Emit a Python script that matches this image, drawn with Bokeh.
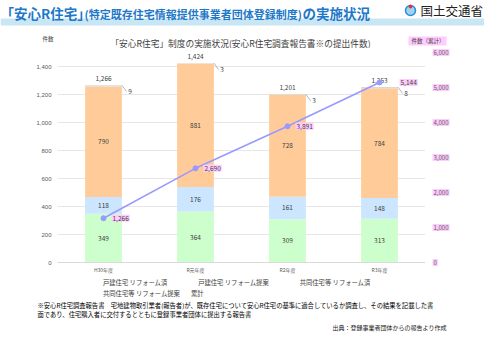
from bokeh.plotting import figure
from bokeh.layouts import column, row
from bokeh.models import (ColumnDataSource, Range1d, FactorRange,
                          Legend, LegendItem, FixedTicker, NumeralTickFormatter)
from bokeh.transform import dodge
from bokeh.core.properties import value
from bokeh.embed import file_html
from bokeh.resources import INLINE

# ---------------- data ----------------
years = ["H30年度", "R元年度", "R2年度", "R3年度"]
detached_done = [349, 364, 309, 313]
detached_prop = [118, 176, 161, 148]
condo_done = [790, 881, 728, 784]
condo_prop = [9, 3, 3, 8]
totals = [1266, 1424, 1201, 1253]
cumulative = [1266, 2690, 3891, 5144]
left_ticks = [0, 200, 400, 600, 800, 1000, 1200, 1400]
right_ticks = [0, 1000, 2000, 3000, 4000, 5000, 6000]
series_names = ["戸建住宅 リフォーム済", "戸建住宅 リフォーム提案",
                "共同住宅等 リフォーム済", "共同住宅等 リフォーム提案"]
line_name = "累計"
title_a = "「安心R住宅」"
title_b = "(特定既存住宅情報提供事業者団体登録制度)"
title_c = "の実施状況"
ministry = "国土交通省"
chart_title = "「安心R住宅」制度の実施状況(安心R住宅調査報告書※の提出件数)"
left_unit = "件数"
right_unit = "件数（累計）"
note1 = "※安心R住宅調査報告書　宅地建物取引業者(報告者)が、既存住宅について安心R住宅の基準に適合しているか調査し、その結果を記載した書"
note2 = "面であり、住宅購入者に交付するとともに登録事業者団体に提出する報告書"
source_note = "出典：登録事業者団体からの報告より作成"

JP = "Noto Sans CJK JP"
W = 484
colors = ["#ccffcc", "#cce6ff", "#ffcc99", "#d9d9d9"]
keys = ["dd", "dp", "cd", "cp"]
PINK = "#ffccff"
TXT = "#404040"


def no_align(f):
    try:
        f.frame_align = False
    except Exception:
        pass


def strip(w, h, yr=None):
    f = figure(width=w, height=h, x_range=Range1d(0, w),
               y_range=yr if yr is not None else Range1d(h, 0),
               output_backend="svg", toolbar_location=None, min_border=0,
               x_axis_location=None, y_axis_location=None, outline_line_color=None,
               background_fill_color="white", border_fill_color="white")
    f.xgrid.grid_line_color = None
    f.ygrid.grid_line_color = None
    no_align(f)
    return f


def txt(f, x, y, t, size, color=TXT, style="normal", align="left"):
    f.text(x=[x], y=[y], text=[t], text_font=value(JP), text_font_size=size,
           text_color=color, text_font_style=style, text_align=align,
           text_baseline="middle")


# ---------------- header ----------------
head = strip(W, 28)
head.quad(left=[0], right=[W], top=[18], bottom=[25], fill_color="#c9e6f5", line_color=None)
blue = "#1e78c8"
txt(head, 0, 12, title_a, "13.5px", blue, "bold")
txt(head, 84, 13, title_b, "11px", blue, "bold")
txt(head, 302, 12, title_c, "13.5px", blue, "bold")
head.scatter(x=[410], y=[10], size=10, fill_color="#9fd3f2", line_color="#2a8fd8", line_width=1.5)
head.scatter(x=[410], y=[6], size=3, color="#e0303a")
txt(head, 420, 10, ministry, "12.5px", "#222222")

# ---------------- sub header ----------------
sub = strip(W, 20)
txt(sub, 240, 14.5, chart_title, "8.7px", TXT, align="center")
txt(sub, 42, 10, left_unit, "5.5px", TXT)
sub.quad(left=[408], right=[446], top=[8], bottom=[17], fill_color=PINK, line_color=None)
txt(sub, 411, 12.5, right_unit, "5.5px", TXT)

# ---------------- chart ----------------
CH, T, B = 228, 4, 14
F = CH - T - B
RMAX = right_ticks[-1]

src = ColumnDataSource(dict(year=years, dd=detached_done, dp=detached_prop,
                            cd=condo_done, cp=condo_prop, total=totals,
                            cum=cumulative,
                            total_txt=[f"{v:,}" for v in totals],
                            cum_txt=[f"{v:,}" for v in cumulative],
                            cp_txt=[str(v) for v in condo_prop],
                            cp_y=[t - 45 for t in totals],
                            cum_xoff=[8, 8, 8, 20]))

p = figure(width=425, height=CH, x_range=FactorRange(*years, range_padding=0),
           y_range=Range1d(0, 1500), output_backend="svg", toolbar_location=None,
           min_border_left=57, min_border_right=0, min_border_top=T,
           min_border_bottom=B, outline_line_color=None,
           background_fill_color="white", border_fill_color="white")
p.extra_y_ranges = {"cum": Range1d(0, RMAX)}

bars = p.vbar_stack(keys, x="year", width=0.4, color=colors, line_color=None, source=src)

segs = [detached_done, detached_prop, condo_done]
mid_y, mid_t, mid_x = [], [], []
for i in range(len(years)):
    base = 0
    for s in segs:
        mid_x.append(years[i])
        mid_y.append(base + s[i] / 2)
        mid_t.append(str(s[i]))
        base += s[i]
seg_src = ColumnDataSource(dict(x=mid_x, y=mid_y, t=mid_t))
p.text(x="x", y="y", text="t", source=seg_src, text_align="center",
       text_baseline="middle", text_font_size="6.5px", text_color=TXT, text_font=value(JP))

p.text(x="year", y="total", text="total_txt", source=src, y_offset=-7,
       text_align="center", text_baseline="middle", text_font_size="6.5px",
       text_color=TXT, text_font=value(JP))

p.segment(x0=dodge("year", 0.2, range=p.x_range), y0="total",
          x1=dodge("year", 0.25, range=p.x_range), y1="cp_y",
          source=src, line_color="#a6a6a6", line_width=0.8)
p.text(x=dodge("year", 0.27, range=p.x_range), y="cp_y", text="cp_txt",
       source=src, text_baseline="middle", text_font_size="6.5px",
       text_color=TXT, text_font=value(JP))

ln = p.line(x="year", y="cum", y_range_name="cum", source=src,
            line_color="#9999ff", line_width=1.6)
sc = p.scatter(x="year", y="cum", y_range_name="cum", source=src, size=5,
               color="#9999ff")
p.text(x="year", y="cum", y_range_name="cum", text="cum_txt", source=src,
       x_offset="cum_xoff", text_baseline="middle", text_font_size="6.5px",
       text_color=TXT, text_font=value(JP), background_fill_color=PINK, padding=1)

p.yaxis.ticker = FixedTicker(ticks=left_ticks)
p.yaxis.formatter = NumeralTickFormatter(format="0,0")
p.yaxis.axis_line_color = None
p.yaxis.major_tick_line_color = None
p.yaxis.minor_tick_line_color = None
p.yaxis.major_tick_out = 0
p.yaxis.minor_tick_out = 0
p.yaxis.major_label_text_font_size = "6px"
p.yaxis.major_label_text_color = "#595959"
p.yaxis.major_label_standoff = 6
p.xaxis.axis_line_color = "#d9d9d9"
p.xaxis.major_tick_line_color = None
p.xaxis.minor_tick_line_color = None
p.xaxis.major_tick_out = 0
p.xaxis.minor_tick_out = 0
p.xaxis.major_label_text_font_size = "5px"
p.xaxis.major_label_text_color = "#595959"
p.xaxis.major_label_text_font = JP
p.xaxis.major_label_standoff = 3
p.xgrid.grid_line_color = None
p.ygrid.grid_line_color = "#e6e6e6"
p.ygrid.ticker = FixedTicker(ticks=left_ticks)
no_align(p)

# right-hand (cumulative) tick labels, same vertical scale as the chart frame
rstrip = strip(W - 425, CH, Range1d(-B * RMAX / F, RMAX + T * RMAX / F))
rstrip.text(x=[7] * len(right_ticks), y=right_ticks, text=[f"{v:,}" for v in right_ticks],
            text_font=value(JP), text_font_size="6px", text_color="#595959",
            text_baseline="middle", background_fill_color=PINK, padding=1)

# ---------------- legend strip ----------------
leg = strip(W, 24)
dummies = [leg.vbar(x=[], top=[], width=1, color=c, line_color=None) for c in colors]
dl = leg.line(x=[], y=[], line_color="#9999ff", line_width=1.6)
ds = leg.scatter(x=[], y=[], size=4, color="#9999ff")
common = dict(label_text_font_size="6.3px", label_text_font=JP, label_text_color=TXT,
              glyph_width=9, glyph_height=4, label_height=8, label_standoff=4,
              padding=0, margin=0, border_line_color=None, background_fill_alpha=0,
              orientation="horizontal")
leg1 = Legend(items=[LegendItem(label=series_names[i], renderers=[dummies[i]]) for i in range(3)],
              location=(90, 13), spacing=18, **common)
leg2 = Legend(items=[LegendItem(label=series_names[3], renderers=[dummies[3]])],
              location=(90, 2), **common)
leg3 = Legend(items=[LegendItem(label=line_name, renderers=[dl, ds])],
              location=(178, 2), **common)
leg.add_layout(leg1, "center")
leg.add_layout(leg2, "center")
leg.add_layout(leg3, "center")

# ---------------- footer ----------------
foot = strip(W, 40)
txt(foot, 37, 5, note1, "6.3px", "#000000")
txt(foot, 37, 14, note2, "6.3px", "#000000")
txt(foot, 446, 27, source_note, "6px", "#222222", align="right")

layout = column(head, sub, row(p, rstrip, spacing=0), leg, foot, spacing=0)
open("out.html", "w").write(file_html(layout, INLINE))
